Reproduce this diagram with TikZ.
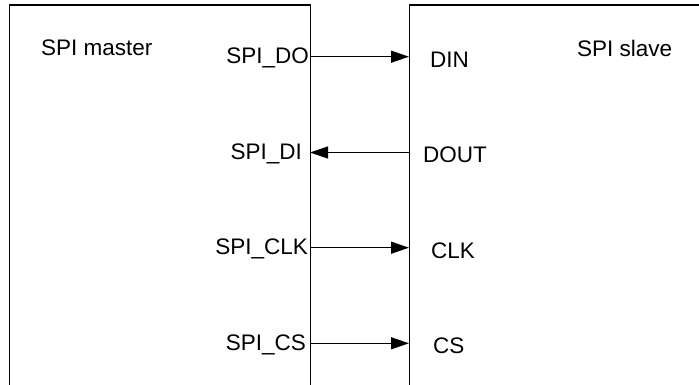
\documentclass[tikz,border=0pt]{standalone}
\usepackage{fontspec}
\setmainfont{Liberation Sans}
\usetikzlibrary{arrows.meta}

\begin{document}
\begin{tikzpicture}[x=1pt, y=-1pt,
    box/.style={draw, line width=1.2pt, inner sep=0pt, minimum height=420pt},
    lbl/.style={font=\fontsize{22.5}{27}\selectfont, inner sep=0pt},
    tofwd/.style={line width=1.2pt, -{Triangle[length=18pt, width=12pt]}},
    toback/.style={line width=1.2pt, {Triangle[length=18pt, width=12pt]}-}]

    \useasboundingbox (0, 0) rectangle (699, 385);
    \clip (0, 0) rectangle (699, 385);

    % Boxes
    \node[box, anchor=north west, minimum width=301.5pt] (master) at (8.5, 4.5) {};
    \node[box, anchor=north west, minimum width=400pt] (slave) at (409, 4.5) {};

    \node[lbl, anchor=base west] (mtitle) at (41, 56) {SPI master};
    \node[lbl, anchor=base west] (stitle) at (577, 56.5) {SPI slave};

    % Signals
    \foreach \i/\y/\mtext/\mx/\stext/\sx/\tip in
        {1/56.7/SPI\_DO/309/DIN/430/tofwd,
         2/152.5/SPI\_DI/302/DOUT/423/toback,
         3/247.7/SPI\_CLK/308/CLK/431/tofwd,
         4/343.3/SPI\_CS/306/CS/433/tofwd}
        {
            \coordinate (M\i) at (310, \y);
            \coordinate (S\i) at (409, \y);
            \draw[\tip] (M\i) -- (S\i);
            \node[lbl, anchor=base east] (ML\i) at (\mx, \y+6.8) {\mtext};
            \node[lbl, anchor=base west] (SL\i) at (\sx, \y+10.5) {\stext};
        }

\end{tikzpicture}
\end{document}
